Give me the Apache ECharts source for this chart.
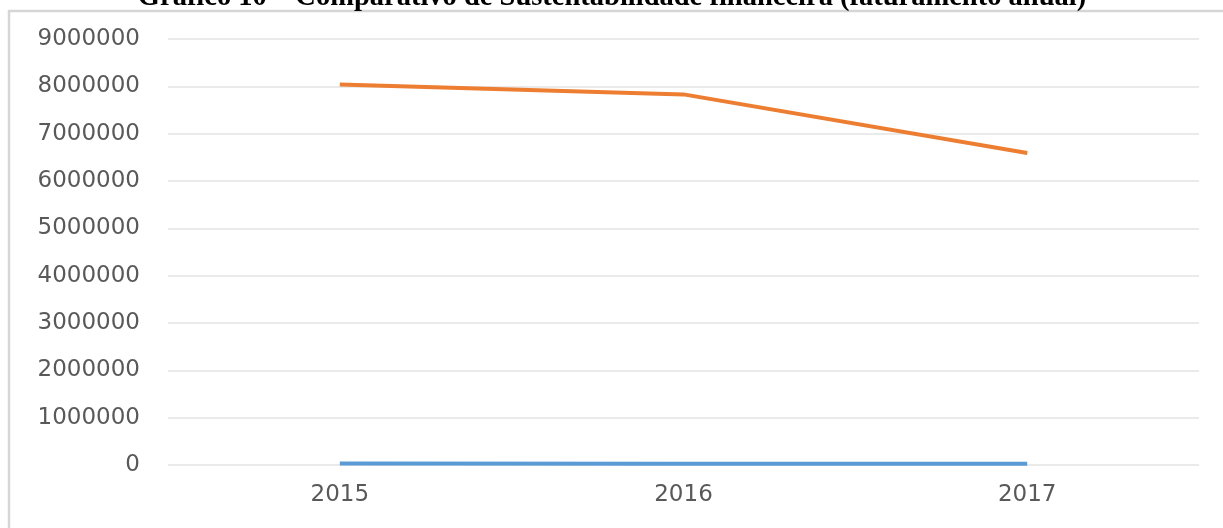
<!DOCTYPE html>
<html>
<head>
<meta charset="utf-8">
<script src="https://cdn.jsdelivr.net/npm/echarts@6/dist/echarts.min.js"></script>
<style>
  html, body { margin: 0; padding: 0; background: #fff; }
  #chart { width: 1223px; height: 528px; }
</style>
</head>
<body>
<div id="chart"></div>
<script>
// Data
const years = ['2015', '2016', '2017'];
const faturamento = [8040000, 7830000, 6590000];   // orange line
const outraSerie = [30000, 28000, 26000];          // blue line, close to zero
const yTicks = { min: 0, max: 9000000, interval: 1000000 };

const chart = echarts.init(document.getElementById('chart'));

chart.setOption({
  animation: false,
  backgroundColor: '#fff',
  graphic: [
    // cropped outer frame (left and top edges visible)
    {
      type: 'rect',
      shape: { x: 9, y: 11, width: 1300, height: 600 },
      style: { fill: 'none', stroke: '#d6d6d6', lineWidth: 2.5 }
    },
    // title, cut off at the top of the picture
    {
      type: 'text',
      x: 612,
      y: 12,
      style: {
        text: 'Gráfico 10 – Comparativo de Sustentabilidade financeira (faturamento anual)',
        font: 'bold 28.5px "Liberation Serif", "Times New Roman", serif',
        fill: '#000',
        align: 'center',
        verticalAlign: 'bottom'
      }
    }
  ],
  grid: { left: 168, right: 24, top: 39, bottom: 63 },
  xAxis: {
    type: 'category',
    data: years,
    boundaryGap: true,
    axisLine: { show: false },
    axisTick: { show: false },
    axisLabel: {
      color: '#595959',
      fontFamily: 'DejaVu Sans',
      fontSize: 23,
      margin: 19
    }
  },
  yAxis: {
    type: 'value',
    min: yTicks.min,
    max: yTicks.max,
    interval: yTicks.interval,
    axisLine: { show: false },
    axisTick: { show: false },
    axisLabel: {
      color: '#595959',
      fontFamily: 'DejaVu Sans',
      fontSize: 23,
      margin: 28,
      formatter: v => String(v)
    },
    splitLine: { lineStyle: { color: '#e3e3e3', width: 1.5 } }
  },
  series: [
    {
      name: 'Série 1',
      type: 'line',
      data: outraSerie,
      symbol: 'none',
      lineStyle: { color: '#5B9BD5', width: 4 }
    },
    {
      name: 'Série 2',
      type: 'line',
      data: faturamento,
      symbol: 'none',
      lineStyle: { color: '#ED7D31', width: 4 }
    }
  ]
});
</script>
</body>
</html>
